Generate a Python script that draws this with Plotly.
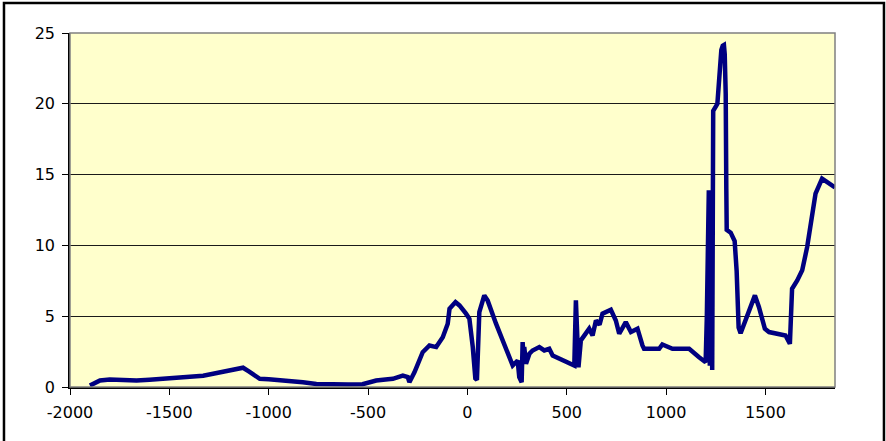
import plotly.graph_objects as go

years = [-1900, -1880, -1849, -1800, -1750, -1665, -1600, -1514, -1450, -1397, -1330, -1280,
         -1230, -1196, -1150, -1129, -1100, -1045, -1000, -961, -900, -828, -760, -700,
         -600, -528, -459, -400, -375, -325, -300, -292, -266, -225, -191, -157, -124,
         -99, -90, -60, -40, -7, 10, 27, 40, 48, 60, 85, 102, 144, 194, 228, 253, 261,
         273, 278, 283, 286, 295, 312, 328, 362, 387, 412, 429, 479, 538, 546, 552, 559,
         571, 596, 613, 630, 647, 665, 680, 722, 747, 764, 797, 823, 856, 881, 889, 965,
         981, 1032, 1116, 1166, 1199, 1205, 1210, 1215, 1220, 1224, 1232, 1237, 1258,
         1266, 1278, 1285, 1291, 1295, 1300, 1303, 1305, 1325, 1345, 1355, 1360, 1365,
         1375, 1400, 1425, 1447, 1467, 1497, 1518, 1601, 1623, 1634, 1660, 1685, 1710,
         1735, 1752, 1785, 1850]
values = [0.1, 0.25, 0.46, 0.53, 0.48, 0.46, 0.52, 0.62, 0.66, 0.7, 0.8, 0.93,
          1.05, 1.17, 1.28, 1.36, 1.1, 0.58, 0.55, 0.51, 0.45, 0.34, 0.22, 0.18,
          0.18, 0.2, 0.46, 0.55, 0.58, 0.81, 0.7, 0.34, 1.05, 2.46, 2.93, 2.82, 3.52,
          4.47, 5.53, 6.0, 5.76, 5.18, 4.82, 2.82, 0.6, 0.5, 5.29, 6.47, 6.1, 4.47, 2.58, 1.52, 1.87, 0.69,
          0.34, 3.17, 1.87, 2.82, 1.64, 2.35, 2.58, 2.82, 2.58, 2.7, 2.23, 1.87, 1.52, 6.12, 3.5, 1.4,
          3.29, 3.76, 4.12, 3.64, 4.7, 4.4, 5.18, 5.46, 4.7, 3.76, 4.58, 3.88, 4.12, 2.93, 2.7, 2.7,
          3.0, 2.7, 2.7, 2.1, 1.75, 5.0, 13.5, 13.9, 1.5, 13.8, 1.2, 19.5, 20.0,
          22.1, 23.8, 24.1, 24.15, 23.5, 20.7, 14.0, 11.1, 10.9, 10.3, 8.2, 6.3, 4.2,
          3.8, 4.7, 5.53, 6.47, 5.65, 4.12, 3.88, 3.64, 3.05, 6.94, 7.53, 8.24, 9.89,
          12.25, 13.66, 14.72, 14.09]

x_ticks = [-2000, -1500, -1000, -500, 0, 500, 1000, 1500]
x_labels = ["-2000", "-1500", "-1000", "-500", "0", "500", "1000", "1500"]
y_ticks = [0, 5, 10, 15, 20, 25]
y_labels = ["0", "5", "10", "15", "20", "25"]

fig = go.Figure()
fig.add_trace(go.Scatter(x=years, y=values, mode="lines",
                         line=dict(color="#000080", width=4.5), showlegend=False))

fig.update_layout(
    width=886, height=441,
    margin=dict(l=70, r=51, t=33, b=54),
    paper_bgcolor="white",
    plot_bgcolor="#FFFFCC",
    font=dict(family="DejaVu Sans, sans-serif", size=16, color="black"),
    xaxis=dict(range=[-2000, 1850], tickvals=x_ticks, ticktext=x_labels,
               ticks="outside", ticklen=6, ticklabelstandoff=4,
               tickcolor="black", showline=True, linecolor="black", linewidth=1.5,
               showgrid=False, zeroline=False),
    yaxis=dict(range=[0, 25], tickvals=y_ticks, ticktext=y_labels,
               ticks="outside", ticklen=6, ticklabelstandoff=4,
               tickcolor="black", showline=True, linecolor="black", linewidth=1.5,
               showgrid=True, gridcolor="#1a1a1a", gridwidth=1, zeroline=False),
    shapes=[
        dict(type="rect", xref="paper", yref="paper", x0=0, x1=1, y0=0, y1=1,
             line=dict(color="#808080", width=1.5), layer="above"),
        dict(type="rect", xref="paper", yref="paper", x0=-0.0863, x1=1.064,
             y0=-0.2, y1=1.0849, line=dict(color="black", width=2.5)),
    ],
)

fig.write_html("out.html", config={"displayModeBar": False},
               post_script="document.body.style.margin='0';document.body.style.overflow='hidden';")
